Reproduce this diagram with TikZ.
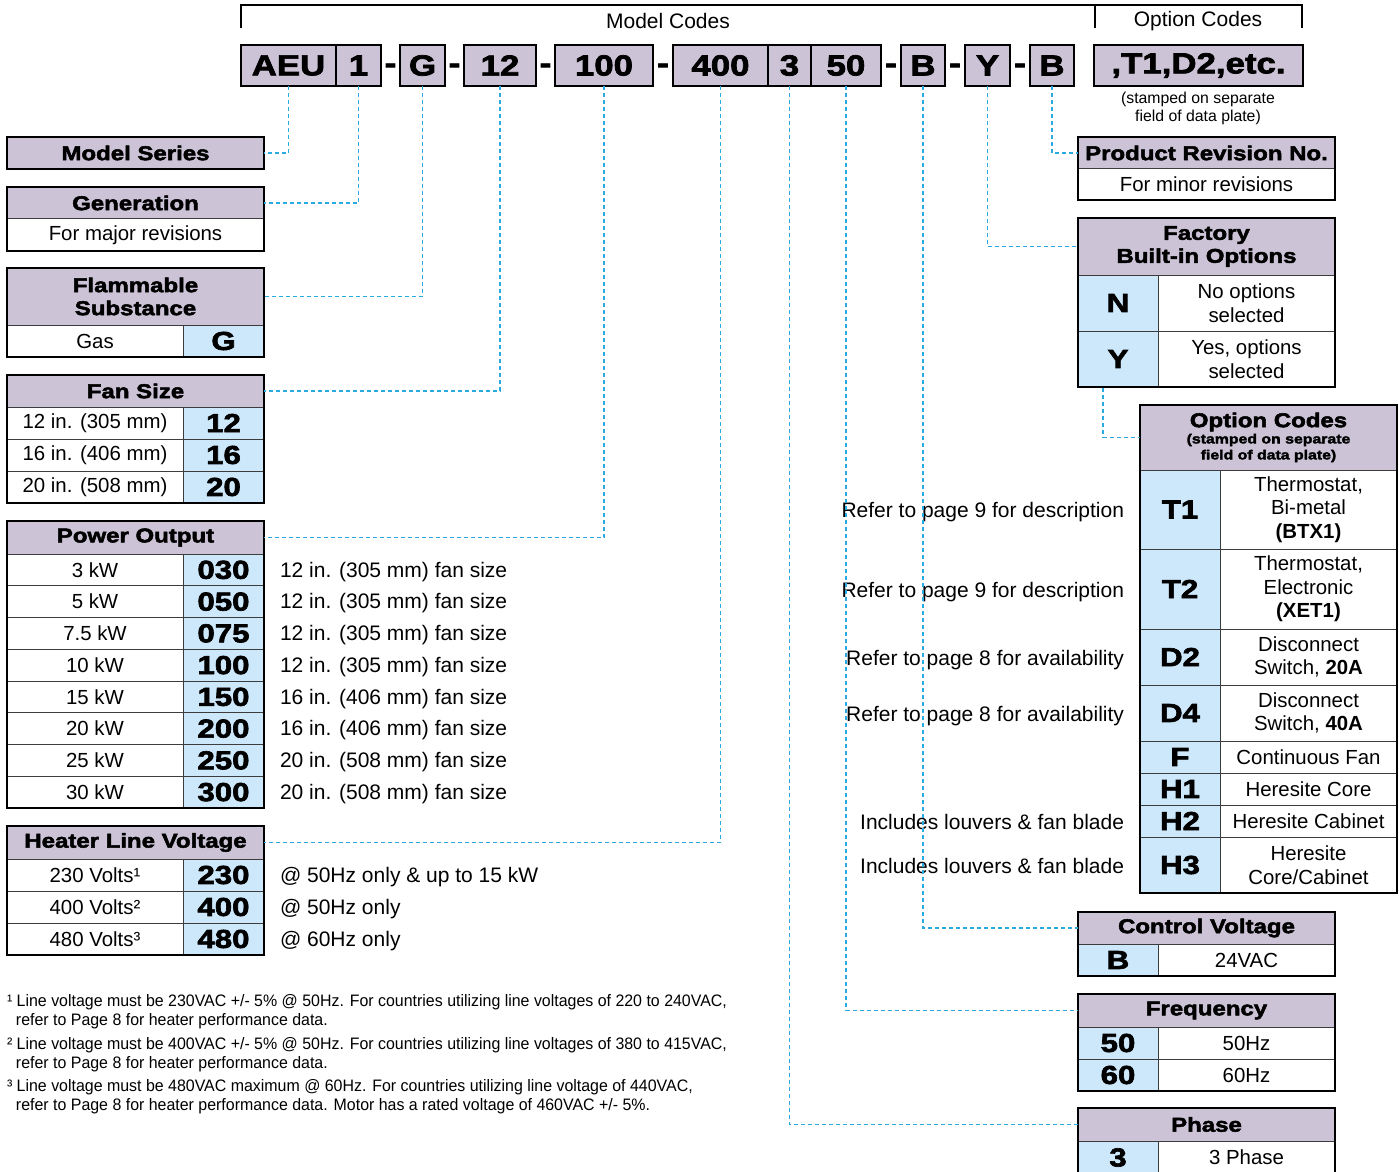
\documentclass[tikz,border=0pt]{standalone}
\usepackage{fontspec}
\setmainfont{Liberation Sans}
\newfontfamily\blk{Liberation Sans Bold}[FakeBold=2.5,FakeStretch=1.2]
\newfontfamily\nar{Liberation Sans}[FakeStretch=0.96]
\usetikzlibrary{fit}
\definecolor{hdrc}{RGB}{204,195,214}
\definecolor{codc}{RGB}{205,232,250}
\definecolor{linec}{RGB}{60,60,60}
\definecolor{leadc}{RGB}{41,170,225}
\newcommand\hfont{\blk\fontsize{10}{11.5}\selectfont}
\newcommand\cfont{\blk\fontsize{13}{15}\selectfont}
\newcommand\bfont{\fontsize{10.2}{11.75}\selectfont}
\newcommand\tfont{\blk\fontsize{14.5}{16}\selectfont}
\newcommand\sfont{\fontsize{10.5}{12}\selectfont}
\newcommand\ffont{\nar\fontsize{8.3}{9}\selectfont}
\newcommand\cel[5]{\node[fit={(#2) (#3)},inner sep=0pt,#4] (#1) {};
  \node[#4t] (#1t) at (#1.center) {#5};}
\begin{document}
\begin{tikzpicture}[x=0.5pt,y=-0.5pt,
  every node/.style={inner sep=0pt,outer sep=0pt,align=center},
  hdr/.style={fill=hdrc,draw=linec,line width=0.5pt},
  hdrt/.style={font=\hfont},
  cod/.style={fill=codc,draw=linec,line width=0.5pt},
  codt/.style={font=\cfont},
  dsc/.style={fill=white,draw=linec,line width=0.5pt},
  dsct/.style={font=\bfont},
  outer/.style={draw=black,line width=1.3pt},
  topbox/.style={fill=hdrc,draw=black,line width=1.3pt},
  topboxt/.style={font=\tfont},
  dashtxt/.style={font=\tfont,anchor=base},
  leader/.style={draw=leadc,line width=0.8pt,dash pattern=on 2pt off 1.5pt},
  side/.style={font=\sfont},
  foot/.style={font=\ffont,anchor=mid west}]
\clip (0,0) rectangle (1399,1172);
\fill[white] (0,0) rectangle (1399,1172);

% ---------- top bracket ----------
\draw[line width=1pt] (241,28) -- (241,5) -- (1302,5) -- (1302,28);
\draw[line width=1pt] (1095,5) -- (1095,28);
\node[side] (lblModel) at (668,21) {Model Codes};
\node[side] (lblOpt) at (1198,21) {Option Codes};

% ---------- code boxes ----------
\cel{cAEU}{241,45}{336,86}{topbox}{AEU}
\cel{cGen}{336,45}{381,86}{topbox}{1}
\cel{cG}{400,45}{445,86}{topbox}{G}
\cel{cFan}{464,45}{536,86}{topbox}{12}
\cel{cPow}{555,45}{653,86}{topbox}{100}
\cel{cVolt}{673,45}{768,86}{topbox}{400}
\cel{cPh}{768,45}{811,86}{topbox}{3}
\cel{cFreq}{811,45}{881,86}{topbox}{50}
\cel{cCtl}{901,45}{945,86}{topbox}{B}
\cel{cOpt}{965,45}{1010,86}{topbox}{Y}
\cel{cRev}{1030,45}{1074,86}{topbox}{B}
\cel{cOC}{1094,45}{1303,86}{topbox}{,T1,D2,etc.}
\node[dashtxt] (d1) at (390.5,73) {-};
\node[dashtxt] (d2) at (454.5,73) {-};
\node[dashtxt] (d3) at (545.5,73) {-};
\node[dashtxt] (d4) at (663,73) {-};
\node[dashtxt] (d5) at (891,73) {-};
\node[dashtxt] (d6) at (955,73) {-};
\node[dashtxt] (d7) at (1020,73) {-};
\node[font=\fontsize{7.9}{9}\selectfont] (stampTop) at (1198,108) {(stamped on separate\\field of data plate)};

% ---------- left tables ----------
\cel{tMS}{7,137}{264,169}{hdr}{Model Series}
\draw[outer] (7,137) rectangle (264,169);

\cel{tGen}{7,187}{264,219}{hdr}{Generation}
\cel{gen1}{7,219}{264,251}{dsc}{For major revisions}
\draw[outer] (7,187) rectangle (264,251);

\cel{tFl}{7,268}{264,325}{hdr}{Flammable\\Substance}
\cel{flD}{7,325}{183,357}{dsc}{Gas}
\cel{flC}{183,325}{264,357}{cod}{G}
\draw[outer] (7,268) rectangle (264,357);

\cel{tFan}{7,375}{264,407}{hdr}{Fan Size}
\foreach \d/\c [count=\i from 0] in {12 in. (305 mm)/12,16 in. (406 mm)/16,20 in. (508 mm)/20}{
  \pgfmathsetmacro\ya{407+32*\i}\pgfmathsetmacro\yb{\ya+32}
  \cel{fanD\i}{7,\ya}{183,\yb}{dsc}{\d}
  \cel{fanC\i}{183,\ya}{264,\yb}{cod}{\c}}
\draw[outer] (7,375) rectangle (264,503);

\cel{tPow}{7,521}{264,554}{hdr}{Power Output}
\foreach \d/\c/\s [count=\i from 0] in {3 kW/030/12 in. (305 mm) fan size,5 kW/050/12 in. (305 mm) fan size,7.5 kW/075/12 in. (305 mm) fan size,10 kW/100/12 in. (305 mm) fan size,15 kW/150/16 in. (406 mm) fan size,20 kW/200/16 in. (406 mm) fan size,25 kW/250/20 in. (508 mm) fan size,30 kW/300/20 in. (508 mm) fan size}{
  \pgfmathsetmacro\ya{554+31.75*\i}\pgfmathsetmacro\yb{\ya+31.75}
  \cel{powD\i}{7,\ya}{183,\yb}{dsc}{\d}
  \cel{powC\i}{183,\ya}{264,\yb}{cod}{\c}
  \node[side,anchor=mid west] (powS\i) at (280,{(\ya+\yb)/2+2}) {\s};}
\draw[outer] (7,521) rectangle (264,808);

\cel{tVolt}{7,826}{264,859}{hdr}{Heater Line Voltage}
\foreach \d/\c/\s [count=\i from 0] in {230 Volts¹/230/@ 50Hz only \& up to 15 kW,400 Volts²/400/@ 50Hz only,480 Volts³/480/@ 60Hz only}{
  \pgfmathsetmacro\ya{859+32*\i}\pgfmathsetmacro\yb{\ya+32}
  \cel{voltD\i}{7,\ya}{183,\yb}{dsc}{\d}
  \cel{voltC\i}{183,\ya}{264,\yb}{cod}{\c}
  \node[side,anchor=mid west] (voltS\i) at (280,{(\ya+\yb)/2+2}) {\s};}
\draw[outer] (7,826) rectangle (264,955);

% ---------- right tables ----------
\cel{tRev}{1078,137}{1335,169}{hdr}{Product Revision No.}
\cel{rev1}{1078,169}{1335,200}{dsc}{For minor revisions}
\draw[outer] (1078,137) rectangle (1335,200);

\cel{tFac}{1078,218}{1335,275}{hdr}{Factory\\Built-in Options}
\cel{facC0}{1078,275}{1158,331}{cod}{N}
\cel{facD0}{1158,275}{1335,331}{dsc}{No options\\selected}
\cel{facC1}{1078,331}{1158,387}{cod}{Y}
\cel{facD1}{1158,331}{1335,387}{dsc}{Yes, options\\selected}
\draw[outer] (1078,218) rectangle (1335,387);

\cel{tOC}{1140,405}{1397,470}{hdr}{}
\node[font=\hfont] (tOCa) at (1268.5,422) {Option Codes};
\node[font=\blk\fontsize{6.6}{8}\selectfont] (tOCb) at (1268.5,448) {(stamped on separate\\field of data plate)};
\cel{ocC1}{1140,470}{1220,549}{cod}{T1}
\cel{ocD1}{1220,470}{1397,549}{dsc}{Thermostat,\\Bi-metal\\\textbf{(BTX1)}}
\cel{ocC2}{1140,549}{1220,629}{cod}{T2}
\cel{ocD2}{1220,549}{1397,629}{dsc}{Thermostat,\\Electronic\\\textbf{(XET1)}}
\cel{ocC3}{1140,629}{1220,685}{cod}{D2}
\cel{ocD3}{1220,629}{1397,685}{dsc}{Disconnect\\Switch, \textbf{20A}}
\cel{ocC4}{1140,685}{1220,741}{cod}{D4}
\cel{ocD4}{1220,685}{1397,741}{dsc}{Disconnect\\Switch, \textbf{40A}}
\cel{ocC5}{1140,741}{1220,773}{cod}{F}
\cel{ocD5}{1220,741}{1397,773}{dsc}{Continuous Fan}
\cel{ocC6}{1140,773}{1220,805}{cod}{H1}
\cel{ocD6}{1220,773}{1397,805}{dsc}{Heresite Core}
\cel{ocC7}{1140,805}{1220,837}{cod}{H2}
\cel{ocD7}{1220,805}{1397,837}{dsc}{Heresite Cabinet}
\cel{ocC8}{1140,837}{1220,893}{cod}{H3}
\cel{ocD8}{1220,837}{1397,893}{dsc}{Heresite\\Core/Cabinet}
\draw[outer] (1140,405) rectangle (1397,893);

\cel{tCtl}{1078,912}{1335,944}{hdr}{Control Voltage}
\cel{ctlC}{1078,944}{1158,976}{cod}{B}
\cel{ctlD}{1158,944}{1335,976}{dsc}{24VAC}
\draw[outer] (1078,912) rectangle (1335,976);

\cel{tFreq}{1078,994}{1335,1027}{hdr}{Frequency}
\cel{frC0}{1078,1027}{1158,1059}{cod}{50}
\cel{frD0}{1158,1027}{1335,1059}{dsc}{50Hz}
\cel{frC1}{1078,1059}{1158,1091}{cod}{60}
\cel{frD1}{1158,1059}{1335,1091}{dsc}{60Hz}
\draw[outer] (1078,994) rectangle (1335,1091);

\cel{tPh}{1078,1108}{1335,1141}{hdr}{Phase}
\cel{phC}{1078,1141}{1158,1174}{cod}{3}
\cel{phD}{1158,1141}{1335,1174}{dsc}{3 Phase}
\draw[outer] (1078,1108) rectangle (1335,1176);

% ---------- side notes for option codes ----------
\node[side,anchor=mid east] (n1) at (1124,512) {Refer to page 9 for description};
\node[side,anchor=mid east] (n2) at (1124,592) {Refer to page 9 for description};
\node[side,anchor=mid east] (n3) at (1124,660) {Refer to page 8 for availability};
\node[side,anchor=mid east] (n4) at (1124,716) {Refer to page 8 for availability};
\node[side,anchor=mid east] (n5) at (1124,824) {Includes louvers \& fan blade};
\node[side,anchor=mid east] (n6) at (1124,868) {Includes louvers \& fan blade};

% ---------- leaders ----------
\draw[leader] (cAEU.south) |- (tMS.east);
\draw[leader] (cGen.south) |- (tGen.east);
\draw[leader] (cG.south) |- (tFl.east);
\draw[leader] (cFan.south) |- (tFan.east);
\draw[leader] (cPow.south) |- (tPow.east);
\draw[leader] (cVolt.south) |- (tVolt.east);
\draw[leader] (cPh.south) |- (tPh.west);
\draw[leader] (cFreq.south) |- (tFreq.west);
\draw[leader] (cCtl.south) |- (tCtl.west);
\draw[leader] (cOpt.south) |- (tFac.west);
\draw[leader] (cRev.south) |- (tRev.west);
\coordinate (facOut) at (1103,388);
\draw[leader] (facOut) |- (tOC.west);

% ---------- footnotes ----------
\node[foot] (f1a) at (7,1001) {¹ Line voltage must be 230VAC +/- 5\% @ 50Hz. For countries utilizing line voltages of 220 to 240VAC,};
\node[foot] (f1b) at (16,1020) {refer to Page 8 for heater performance data.};
\node[foot] (f2a) at (7,1044) {² Line voltage must be 400VAC +/- 5\% @ 50Hz. For countries utilizing line voltages of 380 to 415VAC,};
\node[foot] (f2b) at (16,1063) {refer to Page 8 for heater performance data.};
\node[foot] (f3a) at (7,1086) {³ Line voltage must be 480VAC maximum @ 60Hz. For countries utilizing line voltage of 440VAC,};
\node[foot] (f3b) at (16,1105) {refer to Page 8 for heater performance data. Motor has a rated voltage of 460VAC +/- 5\%.};
\end{tikzpicture}
\end{document}
